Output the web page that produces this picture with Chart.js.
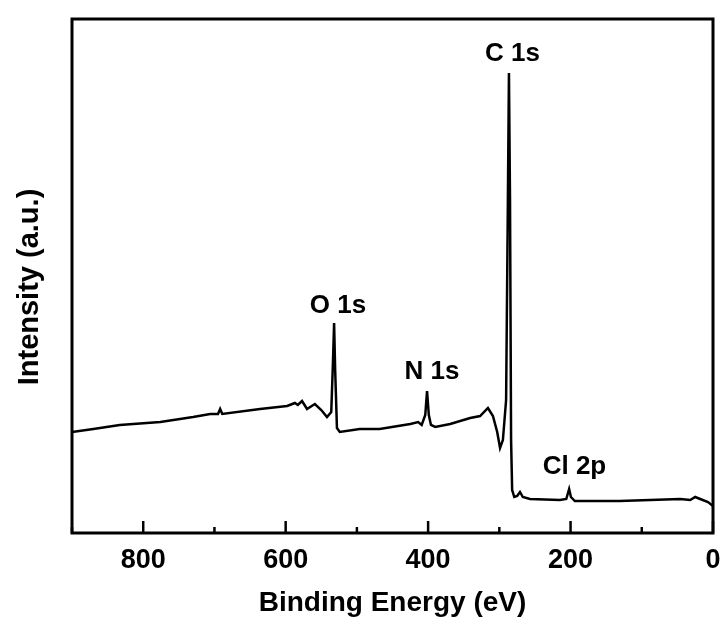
<!DOCTYPE html>
<html>
<head>
<meta charset="utf-8">
<script src="https://cdn.jsdelivr.net/npm/chart.js@4.4.1/dist/chart.umd.min.js"></script>
<style>
  html, body { margin: 0; padding: 0; background: #fff; }
  #wrap { width: 723px; height: 623px; }
</style>
</head>
<body>
<div id="wrap"><canvas id="xpsChart"></canvas></div>
<script>
// XPS survey spectrum
const bindingEnergy = [900, 870, 833, 776, 730, 706, 695, 692, 689, 636, 598, 587, 583, 577, 570, 559, 550, 542, 536, 533.5, 532, 530.5, 528, 524, 496, 468, 425, 414, 409, 404, 401.5, 399, 396, 390, 369, 341, 327, 316, 309, 303, 299, 295, 290.5, 288, 286.5, 285, 283.5, 282, 279, 275, 271, 267, 257, 215, 206, 202, 199.5, 194, 131, 46, 32, 25, 18, 7, 0];
const intensity = [101, 104, 108, 111, 116, 119, 119, 124, 119, 124, 127, 130, 128, 132, 124, 129, 123, 116, 121, 173, 210, 163, 105, 101, 104, 104, 109, 111, 108, 118, 142, 118, 108, 106, 109, 115, 117, 125, 117, 101, 85, 93, 133, 333, 460, 333, 93, 43, 36, 37, 41, 36, 34, 33, 34, 44, 36, 32, 32, 34, 33, 36, 34, 31, 27];

const peakLabels = ['C 1s', 'O 1s', 'N 1s', 'Cl 2p'];
const peakLabelX = [281.5, 526.5, 394.5, 194.5];
const peakLabelY = [479, 227, 161, 66];

const xTicks = [800, 600, 400, 200, 0];

const boldFont = '"Liberation Sans", Arial, sans-serif';

const points = bindingEnergy.map((e, i) => ({ x: e, y: intensity[i] }));

const framePlugin = {
  id: 'frame',
  afterDraw(chart) {
    const { ctx, chartArea: a, scales } = chart;
    ctx.save();
    ctx.strokeStyle = '#000';
    ctx.fillStyle = '#000';
    ctx.lineWidth = 3;
    ctx.strokeRect(a.left, a.top, a.right - a.left, a.bottom - a.top);

    // inward ticks on the bottom axis + labels
    ctx.lineWidth = 2.5;
    ctx.font = 'bold 27px ' + boldFont;
    ctx.textAlign = 'center';
    ctx.textBaseline = 'middle';
    scales.x.ticks.forEach(t => {
      const px = scales.x.getPixelForValue(t.value);
      const major = xTicks.includes(t.value);
      ctx.beginPath();
      ctx.moveTo(px, a.bottom);
      ctx.lineTo(px, a.bottom - (major ? 12 : 6));
      ctx.stroke();
      if (major) ctx.fillText(String(t.value), px, 561);
    });

    // axis titles
    ctx.font = 'bold 28px ' + boldFont;
    ctx.fillText('Binding Energy (eV)', (a.left + a.right) / 2, 603);
    ctx.save();
    ctx.translate(30, 287);
    ctx.rotate(-Math.PI / 2);
    ctx.font = 'bold 29px ' + boldFont;
    ctx.fillText('Intensity (a.u.)', 0, 0);
    ctx.restore();

    // peak labels
    ctx.font = 'bold 26px ' + boldFont;
    peakLabels.forEach((txt, i) => {
      ctx.fillText(txt, scales.x.getPixelForValue(peakLabelX[i]), scales.y.getPixelForValue(peakLabelY[i]));
    });
    ctx.restore();
  }
};

new Chart(document.getElementById('xpsChart'), {
  type: 'line',
  data: {
    datasets: [{
      data: points,
      borderColor: '#000',
      borderWidth: 2.5,
      pointRadius: 0,
      tension: 0,
      fill: false
    }]
  },
  options: {
    responsive: true,
    maintainAspectRatio: false,
    animation: false,
    layout: { padding: { top: 19, right: 10, left: 0, bottom: 0 } },
    plugins: { legend: { display: false }, tooltip: { enabled: false } },
    scales: {
      x: {
        type: 'linear',
        reverse: true,
        min: 0,
        max: 900,
        grid: { display: false, drawTicks: false },
        border: { display: false },
        ticks: { display: false, stepSize: 100, autoSkip: false },
        afterFit: s => { s.height = 90; }
      },
      y: {
        min: 0,
        max: 514,
        grid: { display: false, drawTicks: false },
        border: { display: false },
        ticks: { display: false },
        afterFit: s => { s.width = 72; }
      }
    }
  },
  plugins: [framePlugin]
});
</script>
</body>
</html>
